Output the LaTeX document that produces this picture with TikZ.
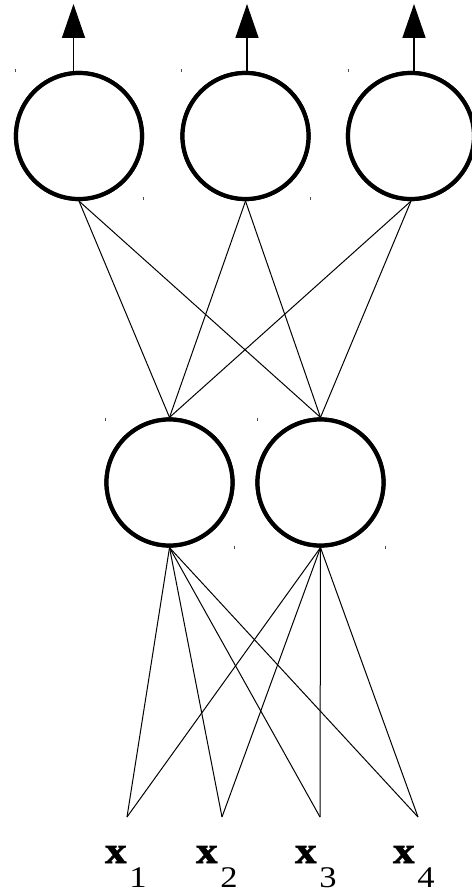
\documentclass[tikz,border=0pt]{standalone}
\usepackage{fontspec}
\setmainfont{Liberation Serif}
\newfontfamily\xfont[BoldFeatures={FakeBold=2}]{Liberation Serif}
\usetikzlibrary{arrows.meta}
\tikzset{
  neuron/.style={circle, draw=black, line width=4.2pt, minimum size=126pt, inner sep=0pt, fill=white},
  wire/.style={draw=black, line width=1pt},
  outarrow/.style={draw=black, line width=1.5pt, -{Triangle[width=23pt,length=34pt]}},
  tick/.style={draw=black!70, line width=0.8pt},
  lab/.style={inner sep=0pt, anchor=base west}
}
\newcommand{\inlab}[1]{\scalebox{1.15}[1]{\fontsize{37}{37}\xfont\bfseries x}\hspace{3pt}\raisebox{-24pt}{\scalebox{1.15}[1]{\fontsize{30}{30}\selectfont #1}}}
\begin{document}
\begin{tikzpicture}[x=1pt,y=-1pt]
\useasboundingbox[fill=white] (0,0) rectangle (471,893);
% input points
\coordinate (i1) at (127,817);
\coordinate (i2) at (222,817);
\coordinate (i3) at (320,817);
\coordinate (i4) at (418,817);
% hidden layer
\node[neuron] (h1) at (169.5,482.5) {};
\node[neuron] (h2) at (320.5,482.5) {};
% output layer
\node[neuron] (o1) at (79,136) {};
\node[neuron] (o2) at (245.5,136) {};
\node[neuron] (o3) at (411,136) {};
% wires input -> hidden
\foreach \i in {i1,i2,i3,i4}{
  \draw[wire] (h1.south) -- (\i);
  \draw[wire] (h2.south) -- (\i);
}
% wires hidden -> output
\foreach \o in {o1,o2,o3}{
  \draw[wire] (h1.north) -- (\o.south);
  \draw[wire] (h2.north) -- (\o.south);
}
% redraw circles on top
\node[neuron] at (h1) {};
\node[neuron] at (h2) {};
\node[neuron] at (o1) {};
\node[neuron] at (o2) {};
\node[neuron] at (o3) {};
% output arrows
\coordinate (a1) at (73.5,4);
\coordinate (a2) at (247,4);
\coordinate (a3) at (414,4);
\draw[outarrow] (o1.north -| a1) -- (a1);
\draw[outarrow] (o2.north -| a2) -- (a2);
\draw[outarrow] (o3.north -| a3) -- (a3);
% small corner ticks
\foreach \p in {(15,71),(143,199),(181,71),(310,199),(348,71),(105,419),(234,547),(257,419),(385,547)}{
  \draw[tick] \p ++(0,-1.5) -- ++(0,3);
}
% labels
\node[lab] (l1) at (105,863) {\inlab{1}};
\node[lab] (l2) at (196,863) {\inlab{2}};
\node[lab] (l3) at (295,863) {\inlab{3}};
\node[lab] (l4) at (393,863) {\inlab{4}};
\end{tikzpicture}
\end{document}
